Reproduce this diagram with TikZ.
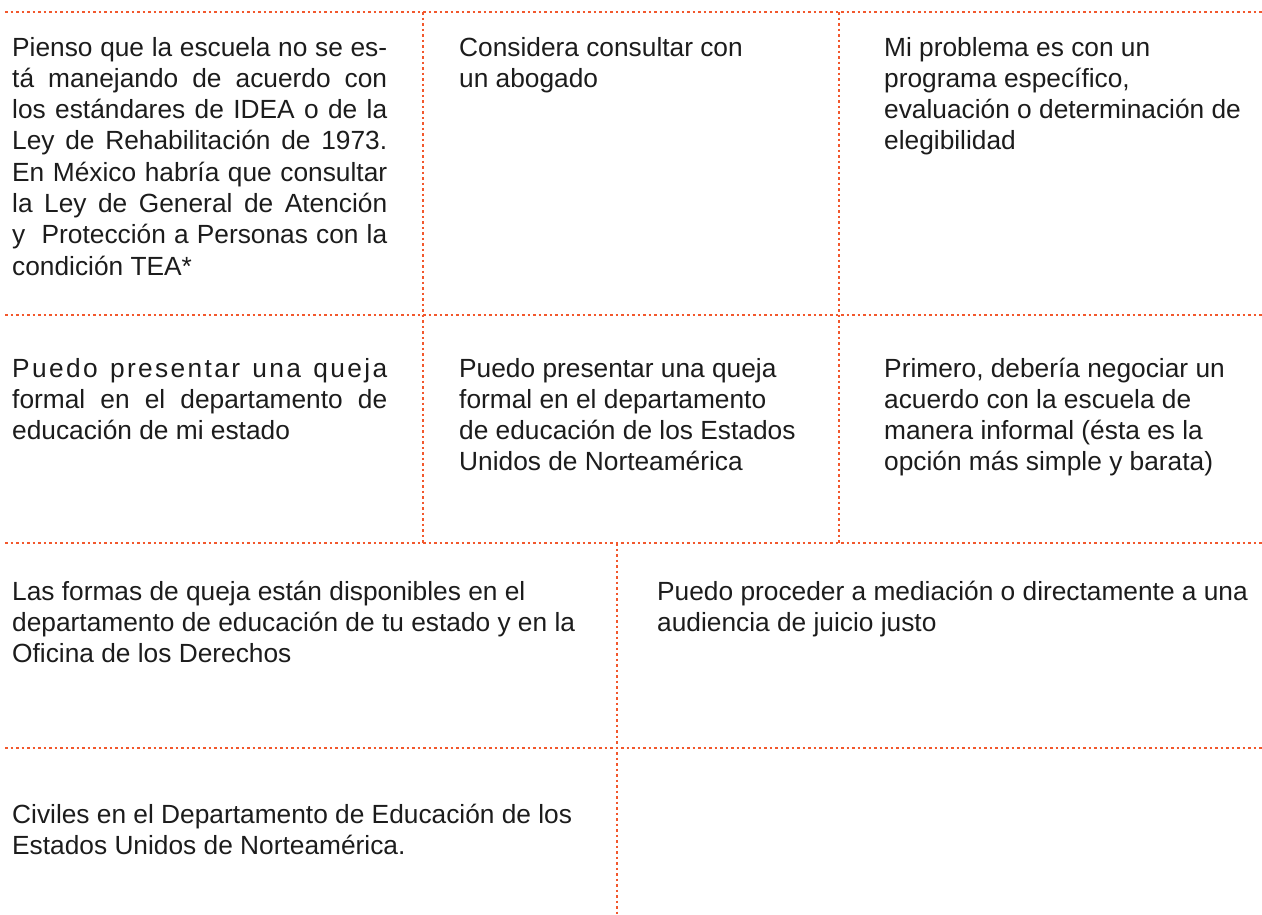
\documentclass[tikz,border=0pt]{standalone}
\usepackage{fontspec}
\setmainfont{Liberation Sans}
\definecolor{dotred}{RGB}{242,88,45}
\definecolor{txt}{RGB}{28,28,28}
\tikzset{
  sepline/.style={draw=dotred, line width=2.8pt, dash pattern=on 2.6pt off 2.9pt},
  cell/.style={anchor=base west, inner sep=0pt, text=txt, font=\fontsize{26.3}{31.3}\selectfont},
}
\newcommand\jline[1]{\makebox[375pt][s]{#1}}
\begin{document}
\begin{tikzpicture}[x=1pt,y=-1pt]
\useasboundingbox (0,0) rectangle (1262,914);
% grid coordinates
\coordinate (h1l) at (5,12);   \coordinate (h1r) at (1262,12);
\coordinate (h2l) at (5,315);  \coordinate (h2r) at (1262,315);
\coordinate (h3l) at (5,543);  \coordinate (h3r) at (1262,543);
\coordinate (h4l) at (5,748);  \coordinate (h4r) at (1262,748);
\coordinate (v1t) at (423,12); \coordinate (v1b) at (423,543);
\coordinate (v2t) at (839,12); \coordinate (v2b) at (839,543);
\coordinate (v3t) at (617,543); \coordinate (v3b) at (617,914);
\draw[sepline] (h1l) -- (h1r);
\draw[sepline] (h2l) -- (h2r);
\draw[sepline] (h3l) -- (h3r);
\draw[sepline] (h4l) -- (h4r);
\draw[sepline] (v1t) -- (v1b);
\draw[sepline] (v2t) -- (v2b);
\draw[sepline] (v3t) -- (v3b);

% row 1
\node[cell] (r1c1) at (12,56) {\parbox[t]{380pt}{%
\jline{Pienso que la escuela no se es-}\\
\jline{tá manejando de acuerdo con}\\
\jline{los estándares de IDEA o de la}\\
\jline{Ley de Rehabilitación de 1973.}\\
\jline{En México habría que consultar}\\
\jline{la Ley de General de Atención}\\
\jline{y\ \ Protección a Personas con la}\\
condición TEA*}};
\node[cell] (r1c2) at (459,56) {\parbox[t]{370pt}{%
Considera consultar con\\
un abogado}};
\node[cell] (r1c3) at (884,56) {\parbox[t]{375pt}{%
Mi problema es con un\\
programa específico,\\
evaluación o determinación de\\
elegibilidad}};

% row 2
\node[cell] (r2c1) at (12,377) {\parbox[t]{380pt}{%
\jline{\addfontfeature{LetterSpace=9}Puedo presentar una queja}\\
\jline{formal en el departamento de}\\
educación de mi estado}};
\node[cell] (r2c2) at (459,377) {\parbox[t]{370pt}{%
Puedo presentar una queja\\
formal en el departamento\\
de educación de los Estados\\
Unidos de Norteamérica}};
\node[cell] (r2c3) at (884,377) {\parbox[t]{375pt}{%
Primero, debería negociar un\\
acuerdo con la escuela de\\
manera informal (ésta es la\\
opción más simple y barata)}};

% row 3
\node[cell] (r3c1) at (12,600) {\parbox[t]{600pt}{%
Las formas de queja están disponibles en el\\
departamento de educación de tu estado y en la\\
Oficina de los Derechos}};
\node[cell] (r3c2) at (657,600) {\parbox[t]{600pt}{%
Puedo proceder a mediación o directamente a una\\
audiencia de juicio justo}};

% row 4
\node[cell] (r4c1) at (12,823) {\parbox[t]{600pt}{%
Civiles en el Departamento de Educación de los\\
Estados Unidos de Norteamérica.}};
\end{tikzpicture}
\end{document}
